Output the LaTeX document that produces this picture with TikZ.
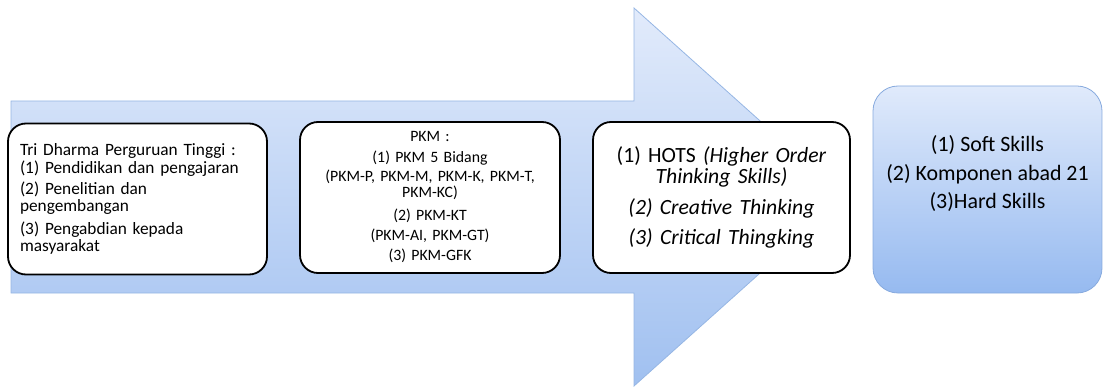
\documentclass[tikz,border=0pt]{standalone}
\usepackage{fontspec}
\setmainfont{Carlito}
\definecolor{arrtop}{RGB}{226,235,251}
\definecolor{arrbot}{RGB}{160,192,240}
\definecolor{arredge}{RGB}{150,182,228}
\definecolor{outtop}{RGB}{224,234,251}
\definecolor{outbot}{RGB}{150,186,240}
\definecolor{outedge}{RGB}{135,170,222}
\tikzset{
  blackbox/.style={draw=black, line width=1.8pt, fill=white, rounded corners=18pt,
    inner ysep=0pt, minimum height=151pt},
  bigarrow/.style={draw=arredge, line width=0.8pt, top color=arrtop, bottom color=arrbot},
  outbox/.style={draw=outedge, line width=0.8pt, top color=outtop, bottom color=outbot,
    rounded corners=25pt, minimum width=229pt, minimum height=207pt, inner sep=0pt}
}
\begin{document}
\begin{tikzpicture}[x=1pt,y=-1pt]
\useasboundingbox (0,0) rectangle (1110,387);
% big arrow
\path[bigarrow] (11,101) -- (634,101) -- (634,8) -- (845,197) -- (634,386) -- (634,293) -- (11,293) -- cycle;
% box 1
\node[blackbox, text width=235pt, inner xsep=12pt, minimum width=259pt, align=left,
  font=\fontsize{17.3}{17.5}\selectfont] (tri) at (137.5,199)
  {Tri Dharma Perguruan Tinggi :\\[1pt]
   (1) Pendidikan dan pengajaran\\[3pt]
   (2) Penelitian dan\\ pengembangan\\[5pt]
   (3) Pengabdian kepada\\ masyarakat};
% box 2
\node[blackbox, text width=240pt, inner xsep=10pt, minimum width=260pt, align=center,
  font=\fontsize{15.8}{15.5}\selectfont] (pkm) at (430,197.5)
  {PKM :\\[5pt]
   (1) PKM 5 Bidang\\[4pt]
   (PKM-P, PKM-M, PKM-K, PKM-T,\\ PKM-KC)\\[8pt]
   (2) PKM-KT\\[4pt]
   (PKM-AI, PKM-GT)\\[5pt]
   (3) PKM-GFK};
% box 3
\node[blackbox, text width=240pt, inner xsep=8.5pt, minimum width=257pt, align=center,
  font=\fontsize{21.7}{20.5}\selectfont] (hots) at (721.5,197.5)
  {(1) HOTS \textit{(Higher Order}\\ \textit{Thinking Skills)}\\[11pt]
   \textit{(2) Creative Thinking}\\[9pt]
   \textit{(3) Critical Thingking}};
% output box
\node[outbox] (out) at (987.5,189.5) {};
\node[align=center, inner sep=0pt, font=\fontsize{21.9}{28.5}\selectfont] (outtext) at (987.5,174)
  {(1) Soft Skills\\ (2) Komponen abad 21\\ (3)Hard Skills};
\end{tikzpicture}
\end{document}
